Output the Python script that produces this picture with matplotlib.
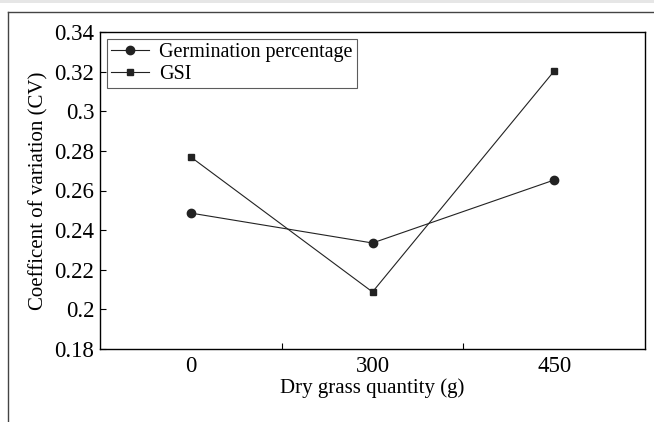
import matplotlib
matplotlib.use("Agg")
import matplotlib.pyplot as plt
from matplotlib.lines import Line2D
from matplotlib.patches import Rectangle

categories = ["0", "300", "450"]
germination = [0.2486, 0.2335, 0.2653]
gsi = [0.2769, 0.2088, 0.3203]
yticks = [0.18, 0.2, 0.22, 0.24, 0.26, 0.28, 0.3, 0.32, 0.34]
ytick_labels = ["0.18", "0.2", "0.22", "0.24", "0.26", "0.28", "0.3", "0.32", "0.34"]

plt.rcParams["font.family"] = ["Liberation Serif", "DejaVu Serif"]

fig = plt.figure(figsize=(6.54, 4.22), dpi=100)
ax = fig.add_axes([100 / 654, 1 - 349 / 422, 545 / 654, 317 / 422])

x = list(range(len(categories)))
ax.plot(x, germination, color="#222222", lw=0.8, marker="o", ms=6,
        label="Germination percentage")
ax.plot(x, gsi, color="#222222", lw=0.8, marker="s", ms=5, label="GSI")

ax.set_xlim(-0.5, 2.5)
ax.set_ylim(0.18, 0.34)
ax.set_xticks(x)
ax.set_xticklabels(categories, fontsize=16.5)
ax.set_xticks([0.5, 1.5], minor=True)
ax.tick_params(axis="x", which="major", length=0, pad=5)
ax.tick_params(axis="x", which="minor", direction="in", length=4, width=0.8)
ax.set_yticks(yticks)
ax.set_yticklabels(ytick_labels, fontsize=16.5)
ax.tick_params(axis="y", direction="in", length=4, width=0.8, pad=4)
for s in ax.spines.values():
    s.set_linewidth(1.0)

ax.set_xlabel("Dry grass quantity (g)", fontsize=15, labelpad=1)
ax.set_ylabel("Coefficent of variation (CV)", fontsize=15, labelpad=4)

leg = ax.legend(loc="upper left", fontsize=14.5, frameon=True, fancybox=False,
                edgecolor="#333333", borderaxespad=0.35, handlelength=1.9,
                handletextpad=0.5, borderpad=0.2, labelspacing=0.15)
leg.get_frame().set_linewidth(0.8)

# outer frame and top band of the source page
fig.add_artist(Rectangle((0, 1 - 3 / 422), 1, 3 / 422, transform=fig.transFigure,
                         color="#e6e6e6", lw=0))
fig.add_artist(Line2D([8 / 654, 1], [1 - 12 / 422, 1 - 12 / 422],
                      transform=fig.transFigure, color="#444444", lw=1.0))
fig.add_artist(Line2D([8 / 654, 8 / 654], [0, 1 - 12 / 422],
                      transform=fig.transFigure, color="#444444", lw=1.0))

fig.savefig("out.png", dpi=100)
